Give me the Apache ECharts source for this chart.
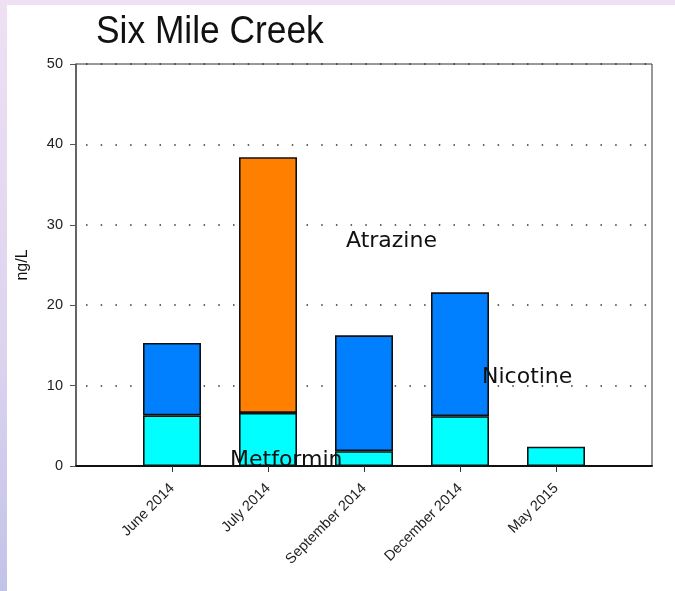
<!DOCTYPE html>
<html>
<head>
<meta charset="utf-8">
<script src="https://cdn.jsdelivr.net/npm/echarts@6/dist/echarts.min.js"></script>
<style>
  html, body { margin:0; padding:0; }
  body { width:675px; height:591px; position:relative; overflow:hidden;
         background: linear-gradient(180deg, #efe0f3 0%, #dcd3ee 60%, #c2c3e8 100%); }
  #paper { position:absolute; left:7px; top:5px; right:0; bottom:0; background:#fff; }
  #chart { position:absolute; left:0; top:0; width:675px; height:591px; }
</style>
</head>
<body>
<div id="paper"></div>
<div id="chart"></div>
<script>
const categories = ['', 'June 2014', 'July 2014', 'September 2014', 'December 2014', 'May 2015', ''];
const metformin = [null, 6.3, 6.6, 1.85, 6.2, 2.4, null];
const nicotine  = [null, 9.0, null, 14.4, 15.4, null, null];
const atrazine  = [null, null, 31.8, null, null, null, null];
const yTicks = { min: 0, max: 50, interval: 10 };

const chart = echarts.init(document.getElementById('chart'), null, { renderer: 'canvas' });
const barStyle = c => ({ color: c, borderColor: '#111', borderWidth: 1.6 });
const labelFont = 'DejaVu Sans, Lato, sans-serif';
const axisFont = 'Liberation Sans, Arial, sans-serif';

chart.setOption({
  backgroundColor: 'transparent',
  animation: false,
  grid: { left: 76, right: 23, top: 64, bottom: 125, show: true, borderColor: '#333', borderWidth: 1, backgroundColor: 'transparent' },
  xAxis: {
    type: 'category',
    data: categories,
    boundaryGap: false,
    axisLine: { lineStyle: { color: '#111', width: 2 } },
    axisTick: { length: 6, lineStyle: { color: '#333' }, interval: (i, v) => v !== '' },
    axisLabel: { rotate: 45, margin: 20, fontSize: 14.5, color: '#222', fontFamily: axisFont,
                 interval: (i, v) => v !== '' },
    splitLine: { show: false }
  },
  yAxis: {
    type: 'value',
    min: yTicks.min, max: yTicks.max, interval: yTicks.interval,
    name: 'ng/L', nameLocation: 'middle', nameGap: 45, nameRotate: 90,
    nameTextStyle: { fontSize: 16, color: '#111', fontFamily: axisFont },
    axisLine: { show: true, lineStyle: { color: '#555', width: 1.5 } },
    axisTick: { show: true, length: 6, lineStyle: { color: '#555' } },
    axisLabel: { margin: 13, fontSize: 14.5, color: '#222', fontFamily: axisFont },
    splitLine: { show: true, lineStyle: { color: '#333', width: 1.5, type: [1.5, 13.2], dashOffset: -10 } }
  },
  series: [
    { name: 'Metformin', type: 'bar', stack: 's', barWidth: 58, data: metformin, itemStyle: barStyle('#00ffff') },
    { name: 'Nicotine', type: 'bar', stack: 's', barWidth: 58, data: nicotine, itemStyle: barStyle('#0080ff') },
    { name: 'Atrazine', type: 'bar', stack: 's', barWidth: 58, data: atrazine, itemStyle: barStyle('#ff8000') }
  ],
  graphic: [
    { type: 'text', x: 96, y: 14, scaleX: 0.93, z: 100,
      style: { text: 'Six Mile Creek', font: '38px Liberation Sans, Arial, sans-serif', fill: '#111' } },
    { type: 'text', left: 346, top: 230, z: 100, style: { text: 'Atrazine', font: '22px ' + labelFont, fill: '#111' } },
    { type: 'text', left: 482, top: 366, z: 100, style: { text: 'Nicotine', font: '22px ' + labelFont, fill: '#111' } },
    { type: 'text', left: 230, top: 449, z: 100, style: { text: 'Metformin', font: '22px ' + labelFont, fill: '#111' } }
  ]
});
</script>
</body>
</html>
